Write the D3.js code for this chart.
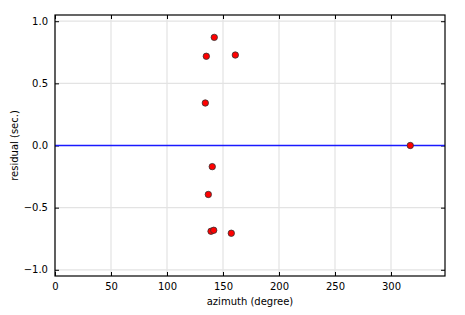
<!DOCTYPE html>
<meta charset="utf-8">
<script src="https://d3js.org/d3.v7.min.js"></script>
<style>
  body { margin: 0; background: #fff; }
  text { font-family: "DejaVu Sans", sans-serif; }
</style>
<div id="chart"></div>
<script>
  // residuals
  let azimuth = [142.2, 135.1, 161.0, 134.2, 140.4, 136.9, 139.3, 141.7, 157.4, 317.2];
  let residual = [0.87, 0.718, 0.728, 0.342, -0.17, -0.394, -0.69, -0.682, -0.706, 0.0];
  let xTicks = [0, 50, 100, 150, 200, 250, 300];
  let yTicks = [-1.0, -0.5, 0.0, 0.5, 1.0];

  let width = 465, height = 315;
  let margin = {left: 55, right: 20, top: 15, bottom: 39};

  let svg = d3.select("#chart").append("svg")
      .attr("width", width).attr("height", height);

  let x = d3.scaleLinear().domain([0, 348.2]).range([margin.left, width - margin.right]);
  let y = d3.scaleLinear().domain([-1.05, 1.05]).range([height - margin.bottom, margin.top]);

  // grid
  svg.append("g").selectAll("line").data(xTicks).join("line")
      .attr("x1", d => x(d)).attr("x2", d => x(d))
      .attr("y1", y.range()[0]).attr("y2", y.range()[1])
      .attr("stroke", "#e3e3e3").attr("stroke-width", 1.2);
  svg.append("g").selectAll("line").data(yTicks).join("line")
      .attr("y1", d => y(d)).attr("y2", d => y(d))
      .attr("x1", x.range()[0]).attr("x2", x.range()[1])
      .attr("stroke", "#e3e3e3").attr("stroke-width", 1.2);

  // axes with inward ticks
  let fmt = d => d3.format(".1f")(d).replace("-", "\u2212");
  let gBottom = svg.append("g").attr("transform", "translate(0," + y.range()[0] + ")")
      .call(d3.axisBottom(x).tickValues(xTicks).tickSizeInner(-4).tickSizeOuter(0).tickPadding(7));
  let gTop = svg.append("g").attr("transform", "translate(0," + y.range()[1] + ")")
      .call(d3.axisTop(x).tickValues(xTicks).tickSizeInner(-4).tickSizeOuter(0).tickFormat(""));
  let gLeft = svg.append("g").attr("transform", "translate(" + x.range()[0] + ",0)")
      .call(d3.axisLeft(y).tickValues(yTicks).tickSizeInner(-4).tickSizeOuter(0).tickPadding(7).tickFormat(fmt));
  let gRight = svg.append("g").attr("transform", "translate(" + x.range()[1] + ",0)")
      .call(d3.axisRight(y).tickValues(yTicks).tickSizeInner(-4).tickSizeOuter(0).tickFormat(""));
  [gBottom, gTop, gLeft, gRight].forEach(g => {
    g.select(".domain").remove();
    g.selectAll("text").attr("font-family", "DejaVu Sans").attr("font-size", 10).attr("fill", "#000");
    g.selectAll("line").attr("stroke", "#000");
  });

  // zero line
  svg.append("line")
      .attr("x1", x.range()[0]).attr("x2", x.range()[1])
      .attr("y1", y(0)).attr("y2", y(0))
      .style("stroke", "#1a1aff").style("stroke-width", 1.3);

  // frame
  svg.append("rect")
      .attr("x", x.range()[0]).attr("y", y.range()[1])
      .attr("width", x.range()[1] - x.range()[0]).attr("height", y.range()[0] - y.range()[1])
      .attr("fill", "none").attr("stroke", "#000").attr("stroke-width", 1.2);

  // points
  svg.append("g").selectAll("circle").data(azimuth).join("circle")
      .attr("cx", d => x(d)).attr("cy", (d, i) => y(residual[i]))
      .attr("r", 3.2).attr("fill", "#ff0000").attr("stroke", "#333").attr("stroke-width", 0.8);

  // labels
  svg.append("text").attr("x", (x.range()[0] + x.range()[1]) / 2).attr("y", 305)
      .attr("text-anchor", "middle").attr("font-size", 10).text("azimuth (degree)");
  svg.append("text").attr("transform", "translate(18," + (y.range()[0] + y.range()[1]) / 2 + ") rotate(-90)")
      .attr("text-anchor", "middle").attr("font-size", 10).text("residual (sec.)");
</script>
